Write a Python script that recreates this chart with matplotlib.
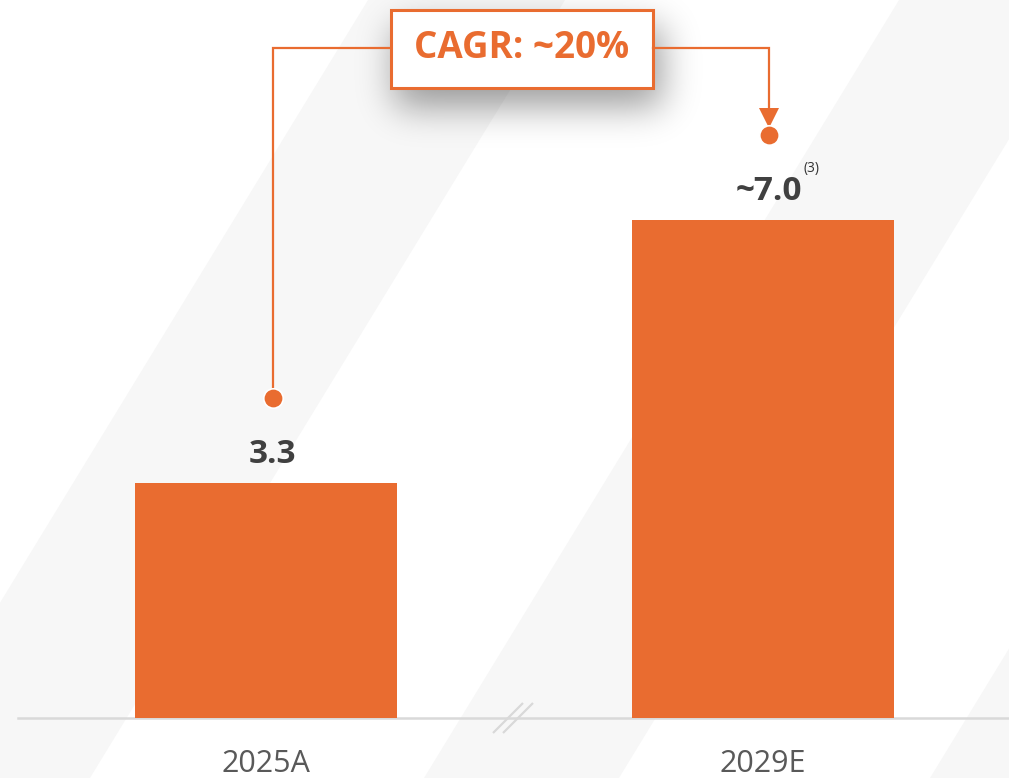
import numpy as np
import matplotlib
matplotlib.use("Agg")
import matplotlib.pyplot as plt
from matplotlib.patches import Polygon, Rectangle

# chart data
categories = ["2025A", "2029E"]
values = [3.3, 7.0]
value_labels = ["3.3", "~7.0"]
value_notes = ["", "(3)"]
cagr_label = "CAGR: ~20%"

ORANGE = "#e96c30"
DARK = "#404040"
GREY_TXT = "#595959"
STRIPE = "#f7f7f7"
BASE = "#d9d9d9"

W, H = 1009, 778
X0, XSTEP = 266, 496.5      # pixel x of first bar, pixel distance between bars
Y0, YSCALE = 718, 71.2      # pixel y of baseline, pixels per unit

plt.rcParams['font.family'] = ['Open Sans', 'DejaVu Sans']


def to_data(px, py):
    return (px - X0) / XSTEP, (Y0 - py) / YSCALE


fig = plt.figure(figsize=(W / 100, H / 100), dpi=100)
ax = fig.add_axes([0, 0, 1, 1])
ax.set_xlim(to_data(0, 0)[0], to_data(W, 0)[0])
ax.set_ylim(to_data(0, H)[1], to_data(0, 0)[1])
ax.axis("off")

# diagonal background stripes
for pts in [[(-107, 778), (90, 778), (565, 0), (368, 0)],
            [(424, 778), (619, 778), (1094, 0), (899, 0)],
            [(930, 778), (1130, 778), (1605, 0), (1405, 0)]]:
    ax.add_patch(Polygon([to_data(*p) for p in pts], closed=True,
                         facecolor=STRIPE, edgecolor="none", zorder=0))

# baseline and axis break mark
ax.axhline(0, xmin=18 / W, xmax=1, color=BASE, lw=1.8, zorder=1)
for off in (0, 10):
    xa, ya = to_data(493 + off, 733)
    xb, yb = to_data(523 + off, 703)
    ax.plot([xa, xb], [ya, yb], color=BASE, lw=1.6, zorder=1,
            solid_capstyle="butt")

# bars
x = np.arange(len(categories))
ax.bar(x, values, width=262 / XSTEP, color=ORANGE, zorder=2)

dx = 6.5 / XSTEP
for xi, v, lab, note, cat in zip(x, values, value_labels, value_notes, categories):
    ax.annotate(lab, (xi + dx, v), xytext=(0, 20), textcoords="offset pixels",
                ha="center", va="baseline", fontsize=24, fontweight="bold",
                color=DARK, zorder=5)
    if note:
        ax.annotate(note, (xi + dx, v), xytext=(34, 48), textcoords="offset pixels",
                    ha="left", va="baseline", fontsize=10, color="#333333", zorder=5)
    ax.text(xi, to_data(0, 772)[1], cat, ha="center", va="baseline",
            fontsize=22, color=GREY_TXT, zorder=5)

# dots above the bars
dot_off = 85 / YSCALE
dots_y = [v + dot_off for v in values]
ax.plot(x + dx, dots_y, "o", ms=14, color=ORANGE, mec="white", mew=1.2, zorder=6)

# CAGR box with soft shadow
bx0, by0, bx1, by1 = 391, 10, 653, 88
gx0, gy0, gx1, gy1 = 320, 0, 740, 200
gy, gx = np.mgrid[gy0:gy1, gx0:gx1]
mask = ((gx >= bx0 + 4) & (gx <= bx1 + 8) & (gy >= by0 + 16) & (gy <= by1 + 18)).astype(float)
k = np.exp(-0.5 * (np.arange(-54, 55) / 18.0) ** 2)
k /= k.sum()
blur = np.apply_along_axis(lambda r: np.convolve(r, k, mode="same"), 1, mask)
blur = np.apply_along_axis(lambda c: np.convolve(c, k, mode="same"), 0, blur)
rgba = np.zeros(blur.shape + (4,))
rgba[..., 3] = 0.38 * blur
l, t = to_data(gx0, gy0)
r, b = to_data(gx1, gy1)
ax.imshow(rgba, extent=(l, r, b, t), origin="upper", aspect="auto",
          interpolation="bilinear", zorder=3)

bl, bb = to_data(bx0, by1)
br, bt = to_data(bx1, by0)
ax.add_patch(Rectangle((bl, bb), br - bl, bt - bb, facecolor="white",
                       edgecolor=ORANGE, lw=2.2, zorder=4))
ax.text((bl + br) / 2, (bb + bt) / 2 + 1 / YSCALE, cagr_label, ha="center", va="center",
        fontsize=26.5, fontweight="bold", color=ORANGE, zorder=5)

# connector lines
yline = to_data(0, 48)[1]
ax.plot([bl, x[0] + dx, x[0] + dx], [yline, yline, dots_y[0]],
        color=ORANGE, lw=1.6, zorder=4, solid_joinstyle="miter")
arrow_y = to_data(0, 118)[1]
ax.plot([br, x[1] + dx, x[1] + dx], [yline, yline, arrow_y],
        color=ORANGE, lw=1.6, zorder=4, solid_joinstyle="miter")
ax.plot([x[1] + dx], [arrow_y], "v", ms=14, color=ORANGE, mew=0, zorder=5)

fig.savefig("out.png", dpi=100)
